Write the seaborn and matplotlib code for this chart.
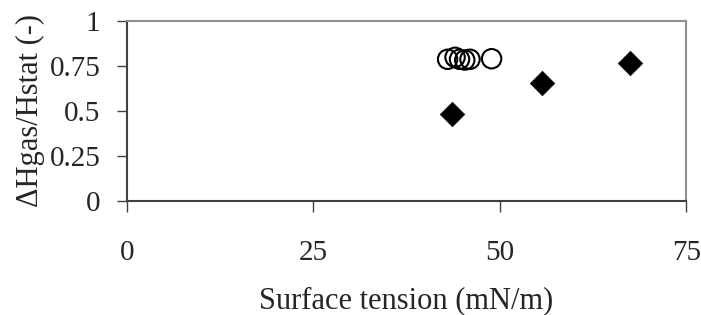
import matplotlib
matplotlib.use("Agg")
import matplotlib.pyplot as plt
import seaborn as sns
import pandas as pd

# Data
circle_x = [43.0, 44.0, 44.6, 45.3, 46.0, 48.9]
circle_y = [0.786, 0.797, 0.786, 0.782, 0.786, 0.789]
diamond_x = [43.6, 55.7, 67.4]
diamond_y = [0.482, 0.656, 0.763]
x_ticks = [0, 25, 50, 75]
y_ticks = [0, 0.25, 0.5, 0.75, 1]
y_tick_labels = ["0", "0.25", "0.5", "0.75", "1"]

sns.set_theme(style="white")
plt.rcParams['font.family'] = ['Liberation Serif', 'DejaVu Serif']

fig = plt.figure(figsize=(7.01, 3.15), dpi=100)
ax = fig.add_axes([0.181, 0.363, 0.798, 0.571])

df_c = pd.DataFrame({"x": circle_x, "y": circle_y})
df_d = pd.DataFrame({"x": diamond_x, "y": diamond_y})

sns.scatterplot(data=df_c, x="x", y="y", ax=ax, marker="o", s=195,
                facecolors="none", edgecolor="black", linewidth=1.5, zorder=3)
sns.scatterplot(data=df_d, x="x", y="y", ax=ax, marker="D", s=155,
                color="black", edgecolor="black", linewidth=0.5, zorder=3)

ax.set_xlim(0, 75)
ax.set_ylim(0, 1)
ax.set_xticks(x_ticks)
ax.set_xticklabels([str(t) for t in x_ticks])
ax.set_yticks(y_ticks)
ax.set_yticklabels(y_tick_labels)

ax.tick_params(axis="x", direction="out", length=8, width=1, color="#404040",
               pad=20, labelsize=21, bottom=True)
ax.tick_params(axis="y", direction="out", length=7, width=1, color="#404040",
               pad=12, labelsize=21, left=True)

ax.set_xlabel("Surface tension (mN/m)", fontsize=22, labelpad=15)
ax.set_ylabel("ΔHgas/Hstat (-)", fontsize=22, labelpad=3)

for side in ["left", "bottom"]:
    ax.spines[side].set_color("#404040")
    ax.spines[side].set_linewidth(1.5)
for side in ["top", "right"]:
    ax.spines[side].set_color("#909090")
    ax.spines[side].set_linewidth(1.5)

fig.savefig("out.png", dpi=100)
